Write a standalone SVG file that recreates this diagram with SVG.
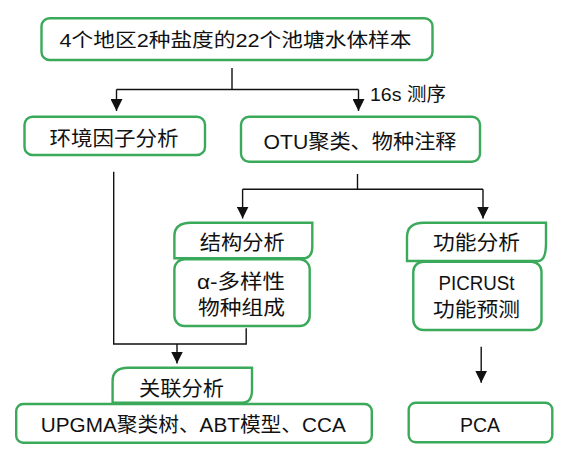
<svg xmlns="http://www.w3.org/2000/svg" width="567" height="454" viewBox="0 0 567 454">
<style>
.box{fill:#fff;stroke:#3aa95a;stroke-width:2.4}
.t{font-family:"Liberation Sans","Noto Sans CJK SC",sans-serif;font-size:20px;fill:#111;text-anchor:middle}
.c{fill:none;stroke:#111;stroke-width:1.4}
</style>
<defs>
<marker id="ah" markerUnits="userSpaceOnUse" markerWidth="12" markerHeight="12" refX="12" refY="6" orient="auto">
<path d="M0,0 L12,6 L0,12 z" fill="#111"/>
</marker>
</defs>
<rect width="567" height="454" fill="#fff"/>
<g id="connectors">
<path class="c" d="M232,68 V89.5"/>
<path class="c" d="M116.5,89.5 H358.5"/>
<path class="c" d="M116.5,89.5 V111" marker-end="url(#ah)"/>
<path class="c" d="M358.5,89.5 V111" marker-end="url(#ah)"/>
<path class="c" d="M357.5,174 V189.3"/>
<path class="c" d="M242.6,189.3 H483"/>
<path class="c" d="M242.6,189.3 V218.5" marker-end="url(#ah)"/>
<path class="c" d="M483,189.3 V218.5" marker-end="url(#ah)"/>
<path class="c" d="M113.7,171.7 V344 H246.2 V328.3"/>
<path class="c" d="M177,344 V363.5" marker-end="url(#ah)"/>
<path class="c" d="M481.2,346.7 V382.7" marker-end="url(#ah)"/>
<text class="t" x="370" y="101" style="text-anchor:start;font-size:19px" textLength="76" lengthAdjust="spacingAndGlyphs">16s 测序</text>
</g>
<g id="n-samples">
<rect class="box" x="41.5" y="18.3" width="391" height="41.7" rx="8"/>
<text class="t" x="235.5" y="47" font-size="19" style="font-size:19px" textLength="352" lengthAdjust="spacingAndGlyphs">4个地区2种盐度的22个池塘水体样本</text>
</g>
<g id="n-env">
<rect class="box" x="24.5" y="116.7" width="180.5" height="38.3" rx="8"/>
<text class="t" x="114" y="146" textLength="129" lengthAdjust="spacingAndGlyphs">环境因子分析</text>
</g>
<g id="n-otu">
<rect class="box" x="241" y="116.7" width="239" height="45" rx="8"/>
<text class="t" x="360" y="149" textLength="193" lengthAdjust="spacingAndGlyphs">OTU聚类、物种注释</text>
</g>
<g id="n-struct">
<path class="box" d="M174.4,258.3 V236 Q174.4,222.7 191,222.7 H312.3 V246.5 Q312.3,258.3 303,258.3 Z"/>
<text class="t" x="242.3" y="250" textLength="85" lengthAdjust="spacingAndGlyphs">结构分析</text>
<rect class="box" x="174.4" y="259.3" width="135.3" height="66.7" rx="10"/>
<text class="t" x="241" y="289" textLength="88" lengthAdjust="spacingAndGlyphs">α-多样性</text>
<text class="t" x="241.5" y="315" textLength="87" lengthAdjust="spacingAndGlyphs">物种组成</text>
</g>
<g id="n-func">
<path class="box" d="M407,261 V237 Q407,222.7 424,222.7 H546 V243 Q546,261 538,261 Z"/>
<text class="t" x="476.5" y="250" textLength="87" lengthAdjust="spacingAndGlyphs">功能分析</text>
<rect class="box" x="413.3" y="261.7" width="128.2" height="68.3" rx="10"/>
<text class="t" x="476.5" y="290" textLength="76" lengthAdjust="spacingAndGlyphs">PICRUSt</text>
<text class="t" x="476.5" y="317" textLength="87" lengthAdjust="spacingAndGlyphs">功能预测</text>
</g>
<g id="n-assoc">
<path class="box" d="M112.6,402.7 V381 Q112.6,367.7 128,367.7 H252 V390 Q252,402.7 242,402.7 Z"/>
<text class="t" x="181.5" y="396" textLength="85" lengthAdjust="spacingAndGlyphs">关联分析</text>
<rect class="box" x="16.2" y="404" width="355.6" height="38.7" rx="7"/>
<text class="t" x="193.3" y="432" textLength="305" lengthAdjust="spacingAndGlyphs">UPGMA聚类树、ABT模型、CCA</text>
</g>
<g id="n-pca">
<rect class="box" x="408.7" y="402.7" width="143.6" height="39.6" rx="7"/>
<text class="t" x="480" y="432" textLength="40" lengthAdjust="spacingAndGlyphs">PCA</text>
</g>
</svg>
